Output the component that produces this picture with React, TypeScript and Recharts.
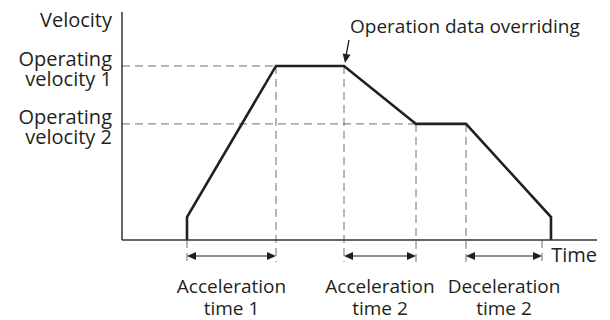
import React from "react";
import {
  LineChart,
  Line,
  XAxis,
  YAxis,
  ReferenceLine,
  ReferenceDot,
} from "recharts";

// Velocity profile (time in arbitrary units, velocity in % of velocity 1)
const times = [2.6, 2.6, 6.16, 8.88, 11.76, 13.76, 17.16, 17.16];
const velocities = [0, 13.2, 100, 100, 66.7, 66.7, 13.2, 0];

const velocity1 = 100;
const velocity2 = 66.7;
const velocityTicks = [velocity1, velocity2];
const velocityLabels: Record<number, string[]> = {
  [velocity1]: ["Operating", "velocity 1"],
  [velocity2]: ["Operating", "velocity 2"],
};

// vertical guides: [time, top velocity]
const guideTimes = [2.6, 6.16, 8.88, 11.76, 13.76, 16.8];
const guideTops = [0, 100, 100, 66.7, 66.7, 0];
const guideBottom = -12.6;

// time spans with arrows
const spanStarts = [2.6, 8.88, 13.76];
const spanEnds = [6.16, 11.76, 16.8];
const spanLabels = [
  ["Acceleration", "time 1"],
  ["Acceleration", "time 2"],
  ["Deceleration", "time 2"],
];
const spanLevel = -9.2;

const data = times.map((t, i) => ({ t, v: velocities[i] }));

const FONT = "'Open Sans', sans-serif";
const INK = "#231f20";
const DASH = "#6d6e71";

function head(tx: number, ty: number, dx: number, dy: number) {
  const len = Math.hypot(dx, dy);
  const ux = dx / len;
  const uy = dy / len;
  const bx = tx - ux * 9;
  const by = ty - uy * 9;
  return `${tx},${ty} ${bx - uy * 4},${by + ux * 4} ${bx + uy * 4},${by - ux * 4}`;
}

function VelocityTick(props: any) {
  const { x, y, payload } = props;
  const lines = velocityLabels[payload.value] || [];
  return (
    <text x={x} y={y} textAnchor="end" fontFamily={FONT} fontSize={20} fill={INK}>
      {lines.map((l, i) => (
        <tspan key={i} x={x} dy={i === 0 ? 0 : 20}>
          {l}
        </tspan>
      ))}
    </text>
  );
}

function SpanArrow(label: string[]) {
  return (props: any) => {
    const { x1, y1, x2 } = props;
    const mid = (x1 + x2) / 2;
    return (
      <g>
        <line x1={x1 + 6} y1={y1} x2={x2 - 6} y2={y1} stroke={INK} strokeWidth={1.2} />
        <polygon points={head(x1, y1, -1, 0)} fill={INK} />
        <polygon points={head(x2, y1, 1, 0)} fill={INK} />
        <text x={mid} y={y1 + 37} textAnchor="middle" fontFamily={FONT} fontSize={19} fill={INK}>
          <tspan x={mid} dy={0}>{label[0]}</tspan>
          <tspan x={mid} dy={22}>{label[1]}</tspan>
        </text>
      </g>
    );
  };
}

function Override(props: any) {
  const { cx, cy } = props;
  return (
    <g>
      <line x1={cx + 5} y1={cy - 26} x2={cx + 2} y2={cy - 10} stroke={INK} strokeWidth={1.3} />
      <polygon points={head(cx + 1, cy - 3, -4, 22)} fill={INK} />
      <text x={cx + 6} y={cy - 33} fontFamily={FONT} fontSize={19} fill={INK}>
        Operation data overriding
      </text>
    </g>
  );
}

export default function App() {
  return (
    <div style={{ width: 610, height: 320 }}>
      <style>{`body{margin:0;background:#fff}`}</style>
      <LineChart
        width={610}
        height={320}
        data={data}
        margin={{ top: 12, right: 13, bottom: 0, left: 0 }}
      >
        <XAxis
          dataKey="t"
          type="number"
          domain={[0, 19]}
          ticks={[]}
          tickLine={false}
          height={80}
          axisLine={{ stroke: "#333", strokeWidth: 1.5 }}
          label={{
            content: (p: any) => {
              const vb = p.viewBox;
              return (
                <text
                  x={vb.x + vb.width}
                  y={vb.y + 22}
                  textAnchor="end"
                  fontFamily={FONT}
                  fontSize={20}
                  fill={INK}
                >
                  Time
                </text>
              );
            },
          }}
        />
        <YAxis
          type="number"
          domain={[0, 131]}
          ticks={velocityTicks}
          tick={<VelocityTick />}
          tickLine={false}
          tickSize={0}
          tickMargin={10}
          width={122}
          axisLine={{ stroke: "#333", strokeWidth: 1.5 }}
          label={{
            content: (p: any) => {
              const vb = p.viewBox;
              return (
                <text
                  x={vb.x + vb.width - 10}
                  y={vb.y + 15}
                  textAnchor="end"
                  fontFamily={FONT}
                  fontSize={20}
                  fill={INK}
                >
                  Velocity
                </text>
              );
            },
          }}
        />
        <ReferenceLine
          segment={[{ x: 0, y: velocity1 }, { x: times[2], y: velocity1 }]}
          stroke={DASH}
          strokeDasharray="8 5"
          ifOverflow="visible"
        />
        <ReferenceLine
          segment={[{ x: 0, y: velocity2 }, { x: times[4], y: velocity2 }]}
          stroke={DASH}
          strokeDasharray="8 5"
          ifOverflow="visible"
        />
        {guideTimes.map((t, i) => (
          <ReferenceLine
            key={`g${i}`}
            segment={[{ x: t, y: guideTops[i] }, { x: t, y: guideBottom }]}
            stroke={DASH}
            strokeDasharray="8 5"
            ifOverflow="visible"
          />
        ))}
        {spanStarts.map((s, i) => (
          <ReferenceLine
            key={`s${i}`}
            segment={[{ x: s, y: spanLevel }, { x: spanEnds[i], y: spanLevel }]}
            ifOverflow="visible"
            shape={SpanArrow(spanLabels[i])}
          />
        ))}
        <Line
          dataKey="v"
          type="linear"
          stroke={INK}
          strokeWidth={2.6}
          strokeLinejoin="miter"
          dot={false}
          isAnimationActive={false}
        />
        <ReferenceDot
          x={times[3]}
          y={velocities[3]}
          r={0}
          ifOverflow="visible"
          shape={Override}
        />
      </LineChart>
    </div>
  );
}
